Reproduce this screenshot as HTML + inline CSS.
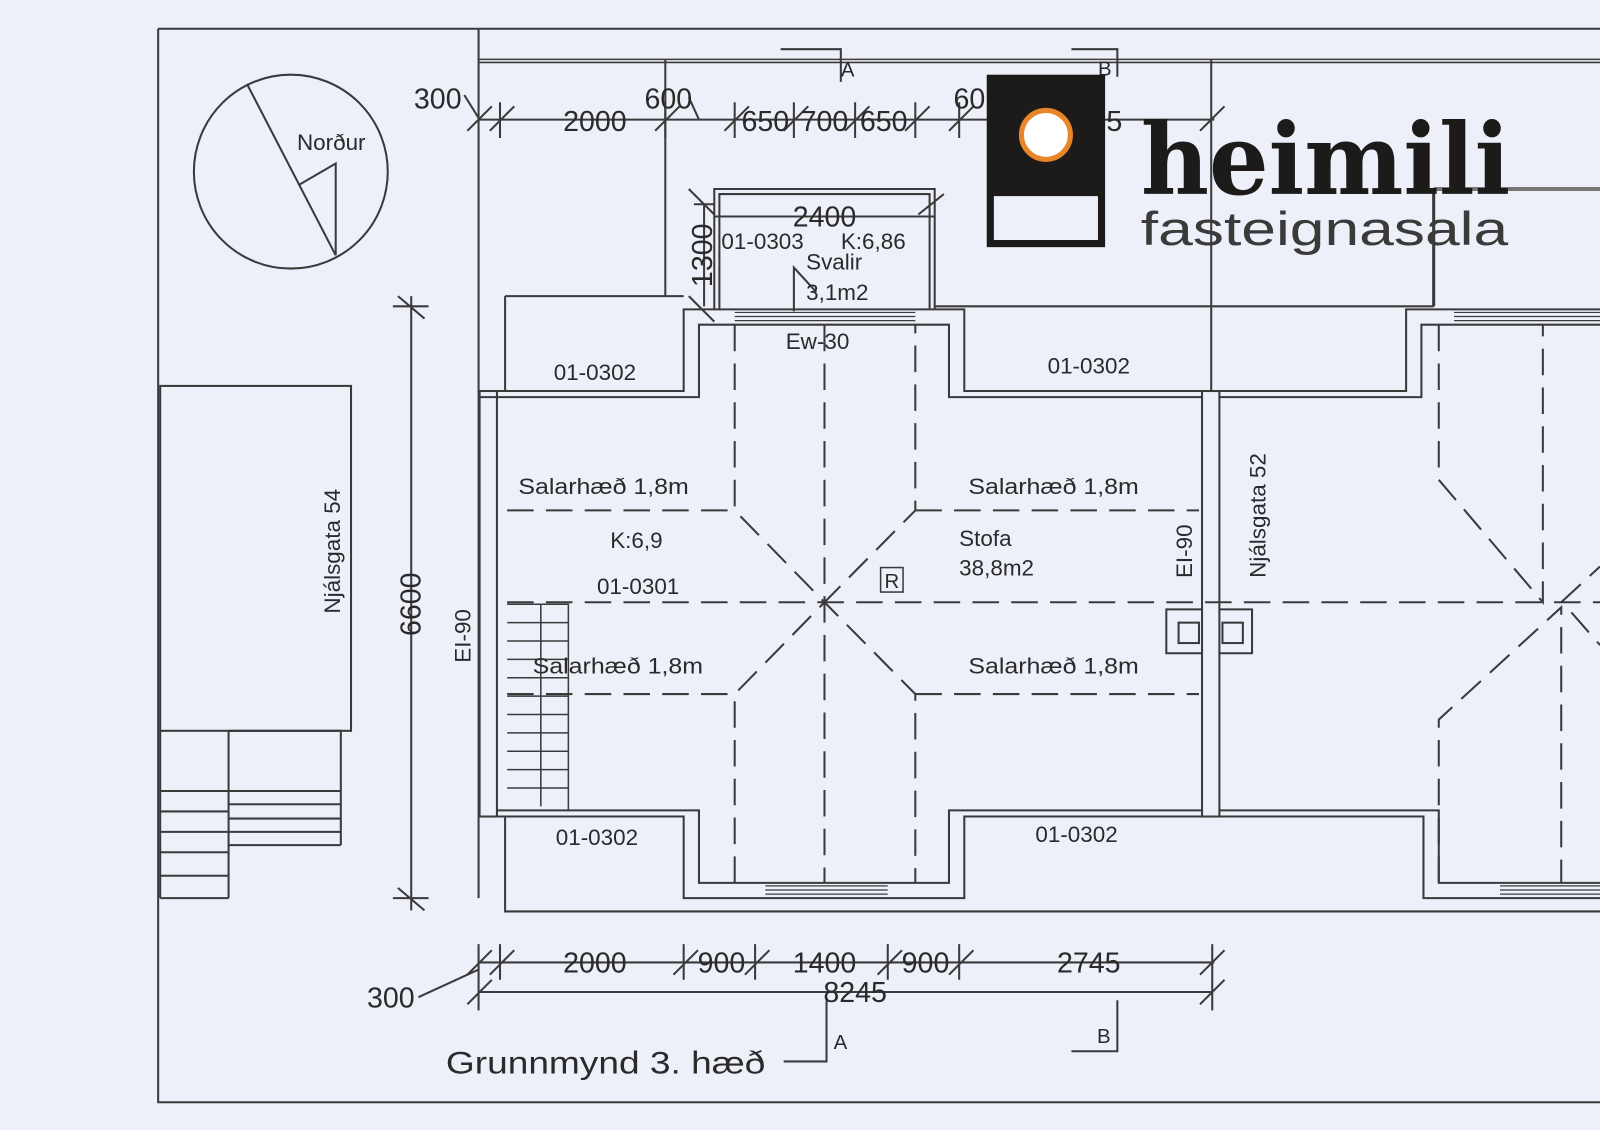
<!DOCTYPE html>
<html><head><meta charset="utf-8"><style>
html,body{margin:0;padding:0;background:#eef0f9;}
svg{display:block}
text{font-family:"Liberation Sans",sans-serif;fill:#2a2a2a}
</style></head><body>
<svg width="1600" height="1130" viewBox="0 0 1568 1107" xmlns="http://www.w3.org/2000/svg">
<rect x="0" y="0" width="1568" height="1107" fill="#eef0f9"/>
<g stroke="#3a3a3a" stroke-width="2" fill="none">
<path d="M155 28 V1080 H1568 M155 28 H1568"/>
<path d="M469 28 V880"/>
<path d="M469 58 H1568 M469 61 H1568" stroke-width="1.5"/>
<path d="M652 58 V290 M1187 58 V383"/>
<path d="M1405 185 V300" stroke-width="3"/>
<path d="M1405 185 H1568" stroke-width="4" stroke="#777"/>
<path d="M495 290 H670 M495 290 V383 M916 300 H1405"/>
<circle cx="285" cy="168" r="95"/>
<path d="M242 82 L329 250 M329 250 L329 160 L293 181"/>
<rect x="157" y="378" width="187" height="338"/>
<path d="M157 716 V880 M224 716 V880 M157 775 H224 M157 795 H224 M157 815 H224 M157 835 H224 M157 858 H224 M157 880 H224"/>
<path d="M224 716 H334 V828 M224 775 H334 M224 788 H334 M224 802 H334 M224 815 H334 M224 828 H334"/>
<path d="M403 290 V892 M385 300 H420 M385 880 H420 M390 290 L416 312 M390 870 L416 892"/>
<path d="M470 383 H670 V303 H945 V383 H1178 M470 389 H685 V318 H930 V389 H1178"/>
<path d="M1195 383 H1378 V303 H1568 M1195 389 H1393 V318 H1568"/>
<path d="M470 800 H670 V880 H945 V800 H1178 M487 794 H685 V865 H930 V794 H1178"/>
<path d="M1195 800 H1395 V880 H1568 M1195 794 H1410 V865 H1568"/>
<path d="M495 800 V893 H1568"/>
<rect x="470" y="383" width="17" height="417"/>
<rect x="1178" y="383" width="17" height="417"/>
<path d="M720 306 H897 M720 310 H897 M720 314 H897" stroke-width="1.2"/>
<path d="M750 868 H870 M750 872 H870 M750 876 H870" stroke-width="1.2"/>
<path d="M1470 868 H1568 M1470 872 H1568 M1470 876 H1568" stroke-width="1.2"/>
<path d="M1425 306 H1568 M1425 310 H1568 M1425 314 H1568" stroke-width="1.2"/>
<path d="M1178 597 H1143 V640 H1178 M1195 597 H1227 V640 H1195"/>
<rect x="1155" y="610" width="20" height="20"/><rect x="1198" y="610" width="20" height="20"/>
<path d="M497 592 H557 V795 M497 610 H557 M497 628 H557 M497 646 H557 M497 664 H557 M497 682 H557 M497 700 H557 M497 718 H557 M497 736 H557 M497 754 H557 M497 772 H557 M530 592 V790" stroke-width="1.5"/>
<path d="M700 303 V185 H916 V303 M705 303 V190 H911 V303"/>
<path d="M700 212 H916 M778 305 V262 L800 286"/>
<path d="M469 117 H1190"/>
<path d="M490 100 V135 M652 100 V135 M720 100 V135 M778 100 V135 M838 100 V135 M897 100 V135 M940 100 V135 M458 128 L482 104 M480 128 L504 104 M642 128 L666 104 M710 128 L734 104 M768 128 L792 104 M828 128 L852 104 M887 128 L911 104 M930 128 L954 104 M1176 128 L1200 104"/>
<path d="M455 93 L470 117 M675 95 L685 117"/>
<path d="M765 48 H824 V80 M1050 48 H1095 V75"/>
<path d="M469 943 H1190 M469 972 H1188"/>
<path d="M469 925 V990 M490 925 V960 M670 925 V960 M740 925 V960 M870 925 V960 M940 925 V960 M1188 925 V990 M458 955 L482 931 M480 955 L504 931 M660 955 L684 931 M730 955 L754 931 M860 955 L884 931 M930 955 L954 931 M1176 955 L1200 931 M458 984 L482 960 M1176 984 L1200 960"/>
<path d="M410 977 L469 950"/>
<path d="M810 980 V1040 H768 M1095 980 V1030 H1050"/>
<path d="M675 185 L700 210 M675 290 L700 315 M900 210 L925 190"/>
<path d="M690 200 V300 M680 200 H700"/>
</g>
<g stroke="#3a3a3a" stroke-width="2" fill="none" stroke-dasharray="26 12">
<path d="M497 590 H1568"/>
<path d="M497 500 H720 M897 500 H1175 M497 680 H720 M897 680 H1175"/>
<path d="M720 318 V500 L808 590 L897 500 V318 M720 865 V680 L808 590 L897 680 V865 M808 318 V865"/>
<path d="M1410 318 V470 L1512 590 V318 M1410 865 V705 L1530 595 V865 M1530 590 L1568 555 M1540 600 L1568 632"/>
</g>
<rect x="863" y="556" width="22" height="24" fill="none" stroke="#3a3a3a" stroke-width="1.5"/>
<text x="874" y="576" font-size="20" text-anchor="middle">R</text>
<g font-size="22">
<text x="291" y="147">Norður</text>
<text x="583" y="372" text-anchor="middle">01-0302</text>
<text x="1067" y="366" text-anchor="middle">01-0302</text>
<text x="707" y="244">01-0303</text>
<text x="824" y="244">K:6,86</text>
<text x="790" y="264">Svalir</text>
<text x="790" y="294">3,1m2</text>
<text x="770" y="342">Ew-30</text>
<text x="508" y="484" textLength="167" lengthAdjust="spacingAndGlyphs">Salarhæð 1,8m</text>
<text x="949" y="484" textLength="167" lengthAdjust="spacingAndGlyphs">Salarhæð 1,8m</text>
<text x="522" y="660" textLength="167" lengthAdjust="spacingAndGlyphs">Salarhæð 1,8m</text>
<text x="949" y="660" textLength="167" lengthAdjust="spacingAndGlyphs">Salarhæð 1,8m</text>
<text x="598" y="537">K:6,9</text>
<text x="940" y="535">Stofa</text>
<text x="940" y="564">38,8m2</text>
<text x="585" y="582">01-0301</text>
<text x="585" y="828" text-anchor="middle">01-0302</text>
<text x="1055" y="825" text-anchor="middle">01-0302</text>
<text transform="translate(333,540) rotate(-90)" text-anchor="middle">Njálsgata 54</text>
<text transform="translate(1240,505) rotate(-90)" text-anchor="middle">Njálsgata 52</text>
<text transform="translate(461,623) rotate(-90)" text-anchor="middle">EI-90</text>
<text transform="translate(1168,540) rotate(-90)" text-anchor="middle">EI-90</text>
<text x="824" y="75" font-size="20">A</text>
<text x="1076" y="74" font-size="20">B</text>
<text x="817" y="1028" font-size="20">A</text>
<text x="1075" y="1022" font-size="20">B</text>
</g>
<g font-size="28">
<text x="429" y="106" text-anchor="middle">300</text>
<text x="583" y="128" text-anchor="middle">2000</text>
<text x="655" y="106" text-anchor="middle">600</text>
<text x="750" y="128" text-anchor="middle">650</text>
<text x="808" y="128" text-anchor="middle">700</text>
<text x="866" y="128" text-anchor="middle">650</text>
<text x="950" y="106" text-anchor="middle">60</text>
<text x="1092" y="128" text-anchor="middle">5</text>
<text x="808" y="222" text-anchor="middle">2400</text>
<text transform="translate(698,250) rotate(-90)" text-anchor="middle">1300</text>
<text transform="translate(412,592) rotate(-90)" text-anchor="middle">6600</text>
<text x="583" y="953" text-anchor="middle">2000</text>
<text x="707" y="953" text-anchor="middle">900</text>
<text x="808" y="953" text-anchor="middle">1400</text>
<text x="907" y="953" text-anchor="middle">900</text>
<text x="1067" y="953" text-anchor="middle">2745</text>
<text x="838" y="982" text-anchor="middle">8245</text>
<text x="383" y="987" text-anchor="middle">300</text>
</g>
<text x="437" y="1052" font-size="31" textLength="313" lengthAdjust="spacingAndGlyphs">Grunnmynd 3. hæð</text>
<rect x="967" y="73" width="116" height="169" fill="#1d1b1a"/>
<rect x="974" y="192" width="102" height="43" fill="#eef0f9"/>
<circle cx="1025" cy="132" r="24" fill="#fff" stroke="#e8862a" stroke-width="5"/>
<text x="1118" y="190" font-size="96" font-weight="bold" textLength="362" lengthAdjust="spacingAndGlyphs" style="font-family:'DejaVu Serif',serif;fill:#1d1b1a">heimili</text>
<text x="1118" y="240" font-size="46" textLength="360" lengthAdjust="spacingAndGlyphs" style="fill:#3a3a3a;font-weight:normal">fasteignasala</text>
</svg>
</body></html>
